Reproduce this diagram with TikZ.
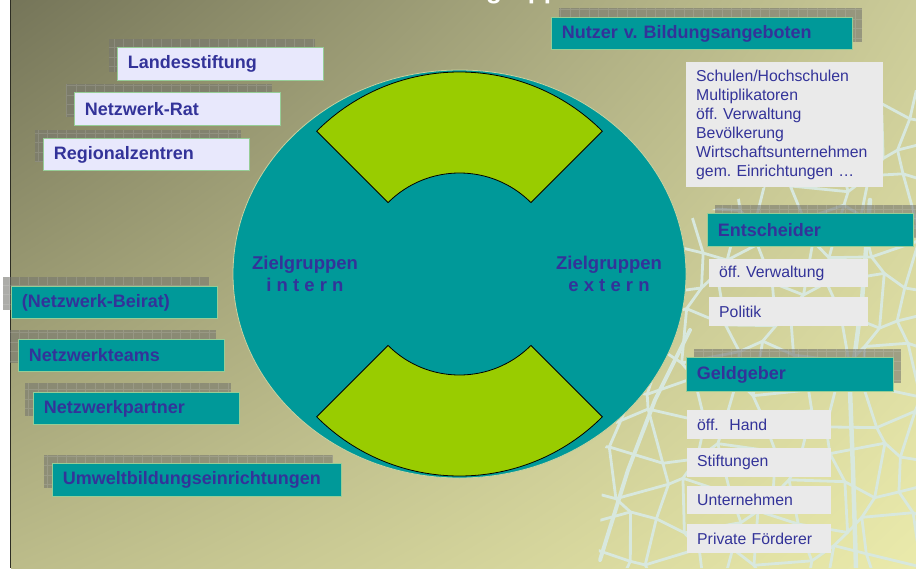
\documentclass[tikz,border=0pt]{standalone}
\usepackage{fontspec}
\setmainfont{Liberation Sans}
\usetikzlibrary{shadings}
\frenchspacing
\definecolor{txt}{RGB}{51,51,153}
\definecolor{tealA}{RGB}{0,153,153}
\definecolor{limeA}{RGB}{153,204,0}
\definecolor{lavA}{RGB}{232,232,252}
\definecolor{grayA}{RGB}{234,234,234}
\definecolor{bordA}{RGB}{150,205,150}
\definecolor{veinA}{RGB}{216,232,222}
\definecolor{bgUL}{RGB}{117,117,89}
\definecolor{bgUR}{RGB}{203,203,152}
\definecolor{bgLL}{RGB}{188,188,138}
\definecolor{bgLR}{RGB}{234,234,171}
\definecolor{shadA}{RGB}{118,118,110}
\tikzset{
  boxbase/.style={rectangle, anchor=north west, inner xsep=10.5pt, inner ysep=0pt,
    align=left, font=\fontsize{18}{21}\selectfont\bfseries, text=txt},
  tealbox/.style={boxbase, fill=tealA, draw=bordA, line width=0.8pt},
  lavbox/.style={boxbase, fill=lavA, draw=bordA, line width=0.8pt},
  graybox/.style={rectangle, anchor=north west, inner xsep=10pt, inner ysep=0pt,
    align=left, fill=grayA, font=\fontsize{15.8}{19}\selectfont, text=txt},
  veinline/.style={draw=veinA, line width=2.8pt, line join=round, line cap=round},
}
\newcommand\shadowrect[4]{%
  \fill[shadA, fill opacity=0.6] (#1,#2) rectangle ++(#3,#4);
  \begin{scope}
    \clip (#1,#2) rectangle ++(#3,#4);
    \draw[white, opacity=0.12, line width=0.6pt, step=9.5pt] (#1,#2) grid ++(#3,#4);
  \end{scope}}
\begin{document}
\begin{tikzpicture}[x=1pt, y=-1pt]
\clip (0,0) rectangle (916,568);
% background
\fill[white] (0,0) rectangle (11,568);
\shade[upper left=bgUL, upper right=bgUR, lower left=bgLL, lower right=bgLR] (11,0) rectangle (916,568);
\draw[line width=1.5pt, color={rgb,255:red,45;green,45;blue,35}] (10.5,0) -- (10.5,568);
% leaf veins
\begin{scope}
\clip (598,568) -- (604,450) -- (640,370) -- (675,300) -- (688,220) -- (760,190) -- (830,140) -- (870,100) -- (916,90) -- (916,568) -- cycle;
\foreach \i in {0,...,9}{
 \foreach \j in {0,...,14}{
  \pgfmathsetmacro\ax{585+36*\i+12*sin(131*\i+77*\j)}
  \pgfmathsetmacro\ay{80+34*\j+11*cos(97*\i+143*\j)}
  \pgfmathsetmacro\bx{585+36*(\i+1)+12*sin(131*(\i+1)+77*\j)}
  \pgfmathsetmacro\by{80+34*\j+11*cos(97*(\i+1)+143*\j)}
  \pgfmathsetmacro\cx{585+36*\i+12*sin(131*\i+77*(\j+1))}
  \pgfmathsetmacro\cy{80+34*(\j+1)+11*cos(97*\i+143*(\j+1))}
  \draw[veinline] (\ax,\ay) -- (\bx,\by) (\ax,\ay) -- (\cx,\cy);
 }}
\draw[veinline, line width=4.5pt] (856,568) -- (853,470) -- (850,390) -- (862,300) -- (870,200);
\draw[veinline, line width=4pt] (600,560) -- (628,470) -- (655,400) -- (690,330);
\end{scope}
% title (cut off at top)
\node[anchor=base west, inner sep=0pt, font=\fontsize{26}{30}\selectfont\bfseries, text=white] (title) at (441,-2) {Zielgruppen};
% circle
\begin{scope}[shift={(459.5,274)}, y=1pt]
  \draw[fill=tealA, draw={rgb,255:red,200;green,210;blue,160}, line width=0.8pt] (0,0) ellipse [x radius=226.5pt, y radius=204pt];
  \draw[fill=limeA, draw=black, line width=0.8pt] (45:101pt) -- (45:202pt) arc[start angle=45, end angle=135, radius=202pt] -- (135:101pt) arc[start angle=135, end angle=45, radius=101pt] -- cycle;
  \draw[fill=limeA, draw=black, line width=0.8pt] (225:101pt) -- (225:202pt) arc[start angle=225, end angle=315, radius=202pt] -- (315:101pt) arc[start angle=315, end angle=225, radius=101pt] -- cycle;
\end{scope}
\node[align=center, font=\fontsize{18.5}{22}\selectfont\bfseries, text=txt] (zint) at (305,274) {Zielgruppen\\i n t e r n};
\node[align=center, font=\fontsize{18.5}{22}\selectfont\bfseries, text=txt] (zext) at (609,274) {Zielgruppen\\e x t e r n};
% left lavender boxes
\shadowrect{109}{39}{206}{33}
\node[lavbox, text width=185pt, minimum height=33pt] (lands) at (117,47) {Landesstiftung};
\shadowrect{66}{84}{206}{33}
\node[lavbox, text width=185pt, minimum height=33pt] (nrat) at (74,92) {Netzwerk-Rat};
\shadowrect{35}{130}{206}{32}
\node[lavbox, text width=185pt, minimum height=32pt] (regio) at (43,138) {Regionalzentren};
% left teal boxes
\shadowrect{3}{277}{206}{33}
\node[tealbox, text width=185pt, minimum height=32pt] (beirat) at (11,286) {(Netzwerk-Beirat)};
\shadowrect{10}{330}{206}{33}
\node[tealbox, text width=185pt, minimum height=32pt] (teams) at (18,339) {Netzwerkteams};
\shadowrect{25}{383}{206}{33}
\node[tealbox, text width=185pt, minimum height=32pt] (partner) at (33,392) {Netzwerkpartner};
\shadowrect{44}{455}{289}{33}
\node[tealbox, text width=268pt, minimum height=33pt] (umwelt) at (52,463) {Umweltbildungseinrichtungen};
% right column
\shadowrect{559}{8}{303}{34}
\node[tealbox, text width=280pt, minimum height=32pt] (nutzer) at (551,17) {Nutzer v. Bildungsangeboten};
\node[graybox, text width=177pt, minimum height=125pt] (nlist) at (686,62) {Schulen/Hochschulen\\Multiplikatoren\\öff. Verwaltung\\Bevölkerung\\Wirtschaftsunternehmen\\gem. Einrichtungen …};
\shadowrect{715}{205}{206}{33}
\node[tealbox, text width=185pt, minimum height=33pt] (entsch) at (707,213) {Entscheider};
\node[graybox, text width=139pt, minimum height=28pt] (verw) at (709,259) {öff. Verwaltung};
\node[graybox, text width=139pt, minimum height=29pt] (politik) at (709,297) {Politik};
\shadowrect{694}{349}{207}{34}
\node[tealbox, text width=186pt, minimum height=34pt] (geld) at (686,357) {Geldgeber};
\node[graybox, text width=124pt, minimum height=29pt] (hand) at (687,410) {öff.\ \ Hand};
\node[graybox, text width=124pt, minimum height=29pt] (stift) at (687,448) {Stiftungen};
\node[graybox, text width=124pt, minimum height=28pt] (untern) at (687,486) {Unternehmen};
\node[graybox, text width=124pt, minimum height=29pt] (priv) at (687,524) {Private Förderer};
\end{tikzpicture}
\end{document}
